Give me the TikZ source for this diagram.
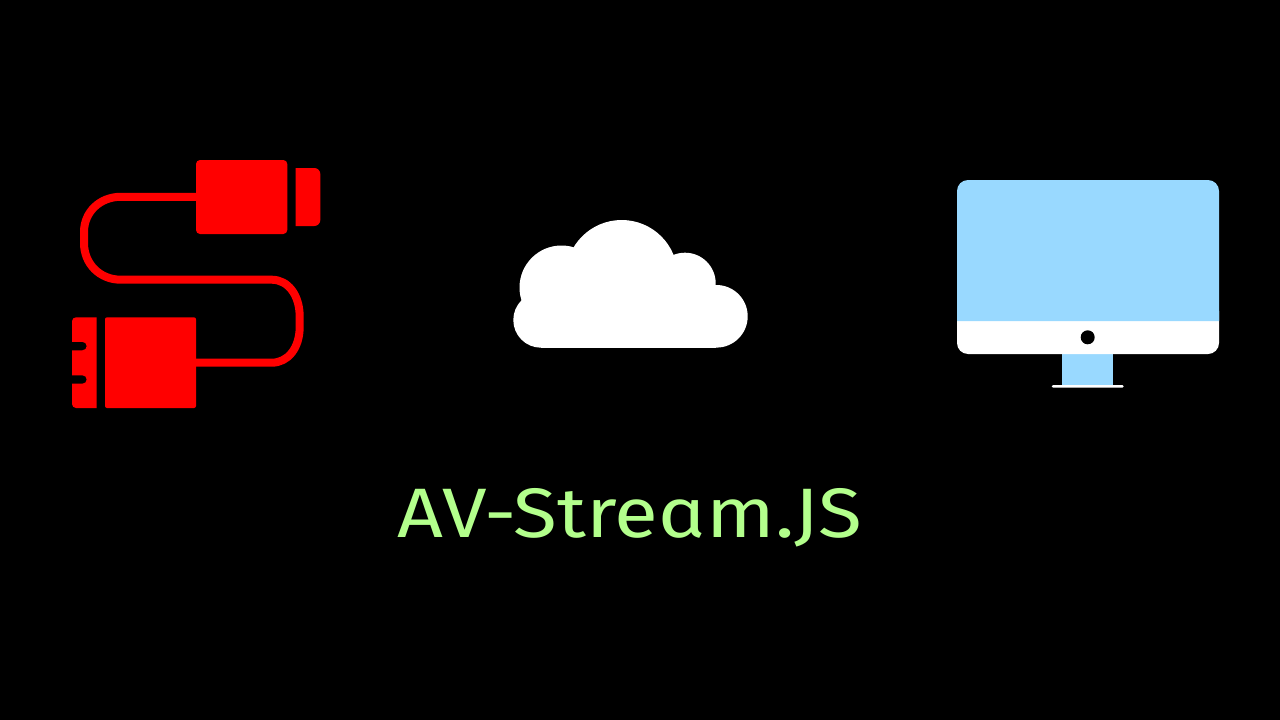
\documentclass[tikz,border=0pt]{standalone}
\usepackage{fontspec}
\newfontfamily\titlefont{Fira Sans}[RawFeature={+ss01;+ss02;+ss03;+salt;+cv01;+cv02},FakeStretch=1.145]
\definecolor{plugred}{HTML}{FF0000}
\definecolor{screenblue}{HTML}{99D9FF}
\definecolor{titlegreen}{HTML}{B3FF8C}
\tikzset{
  plug/.style={fill=plugred,draw=none},
  cable/.style={draw=plugred,line width=8pt,line join=round},
  cloudpart/.style={fill=white,draw=none},
  title/.style={text=titlegreen,inner sep=0pt,font=\fontsize{70}{70}\selectfont\titlefont}
}
\begin{document}
\begin{tikzpicture}[x=1pt,y=-1pt]
\useasboundingbox (0,0) rectangle (1280,720);
\fill[black] (0,0) rectangle (1280,720);
% cable
\draw[cable] (200,196.8) -- (120.7,196.8)
  .. controls (100,196.8) and (84,212) .. (84,232) -- (84,243)
  .. controls (84,264) and (100,279.7) .. (120.7,279.7)
  -- (271.7,279.7)
  .. controls (288,279.7) and (299.7,295) .. (299.7,316.7) -- (299.7,326.7)
  .. controls (299.7,348) and (288,362.7) .. (271.7,362.7)
  -- (190,362.7);
% top plug
\fill[plug,rounded corners=4pt] (196,160) rectangle (287.3,234);
\fill[plug] (295.7,168) -- (314.3,168) arc[start angle=-90,end angle=0,radius=6]
  -- (320.3,220) arc[start angle=0,end angle=90,radius=6] -- (295.7,226) -- cycle;
% bottom plug
\fill[plug,rounded corners=2pt] (105,317.3) rectangle (196,408);
\fill[plug] (76,317.3) -- (96.7,317.3) -- (96.7,408) -- (76,408)
  arc[start angle=90,end angle=180,radius=4] -- (72,383.7) -- (82.5,383.7)
  arc[start angle=90,end angle=-90,radius=4.2] -- (72,375.3) -- (72,350.3) -- (82.5,350.3)
  arc[start angle=90,end angle=-90,radius=4.2] -- (72,341.9) -- (72,321.3)
  arc[start angle=180,end angle=270,radius=4] -- cycle;
% cloud
\fill[cloudpart] (541,320) circle[radius=27.7];
\fill[cloudpart] (716.4,316.3) circle[radius=31.3];
\fill[cloudpart] (561.5,287.5) circle[radius=42];
\fill[cloudpart] (621.7,276) circle[radius=56];
\fill[cloudpart] (685,283.4) circle[radius=30.7];
\fill[cloudpart] (541,300) rectangle (716.4,347.7);
% monitor
\fill[screenblue] (1062.3,350) rectangle (1113.3,385.5);
\fill[white,rounded corners=1.3pt] (1051.7,385) rectangle (1123.7,387.7);
\fill[white,rounded corners=11pt] (957,300) rectangle (1219,354);
\fill[screenblue] (957,321) -- (957,191) arc[start angle=180,end angle=270,radius=11]
  -- (1208,180) arc[start angle=270,end angle=360,radius=11] -- (1219,321) -- cycle;
\fill[black] (1087.7,337.3) circle[radius=7];
% title
\node[title,anchor=base] (caption) at (630,537) {AV-Stream.JS};
\end{tikzpicture}
\end{document}
